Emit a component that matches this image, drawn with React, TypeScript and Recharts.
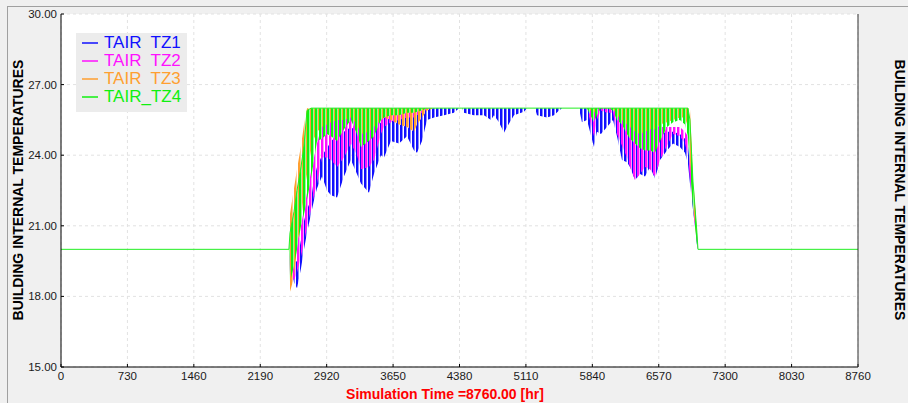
import React from 'react';
import { ComposedChart, Area, Line, XAxis, YAxis, CartesianGrid } from 'recharts';

// simulation hour of each sample
const HOURS = [
  0, 2505, 2517, 2561, 2594, 2638, 2671, 2704, 2748, 2781,
  2814, 2869, 2924, 2968, 3034, 3110, 3187, 3253, 3297, 3385,
  3440, 3517, 3550, 3627, 3715, 3803, 3880, 3913, 3968, 4023,
  4100, 4210, 4319, 4374, 4407, 4429, 4539, 4649, 4726, 4759,
  4814, 4869, 4902, 4979, 5089, 5122, 5210, 5232, 5342, 5419,
  5474, 5507, 5693, 5726, 5781, 5858, 5891, 5935, 6001, 6067,
  6111, 6166, 6221, 6254, 6309, 6364, 6419, 6474, 6529, 6584,
  6661, 6727, 6803, 6858, 6891, 6913, 6946, 6990, 7001, 8760,
];

// daily min / max envelope of each zone temperature
const TZ1_LOW = [
  20, 20, 19.6, 18.6, 18.35, 19.2, 20.0, 20.7, 21.5, 22.1,
  22.6, 23.1, 22.5, 22.3, 22.2, 23.1, 23.8, 23.2, 22.8, 22.4,
  23.2, 24.0, 23.9, 24.6, 24.5, 24.8, 24.2, 24.1, 24.6, 25.5,
  25.6, 25.7, 25.8, 26, 26, 25.8, 25.7, 25.7, 25.5, 25.7,
  25.4, 24.95, 25.2, 25.7, 25.85, 26, 26, 25.7, 25.6, 25.7,
  25.9, 26, 26, 25.4, 25.5, 24.35, 25.0, 24.9, 25.2, 25.5,
  24.8, 23.8, 23.7, 23.5, 22.95, 23.2, 23.1, 23.5, 23.0, 23.8,
  24.2, 24.5, 24.35, 24.1, 23.65, 22.8, 21.7, 20.2, 20, 20,
];
const TZ1_HIGH = [
  20, 20, 20.0, 19.4, 19.5, 20.4, 21.2, 21.7, 22.1, 23.0,
  23.5, 24.0, 24.3, 24.6, 24.8, 25.0, 25.2, 25.0, 24.8, 24.7,
  25.0, 25.4, 25.6, 25.8, 26, 26, 26, 26, 26, 26,
  26, 26, 26, 26, 26, 26, 26, 26, 26, 26,
  26, 26, 26, 26, 26, 26, 26, 26, 26, 26,
  26, 26, 26, 26, 26, 26, 26, 26, 26, 26,
  25.6, 25.3, 25.0, 24.8, 24.6, 24.6, 24.7, 24.8, 24.8, 24.9,
  25.0, 25.0, 24.9, 24.7, 24.4, 23.6, 22.3, 20.6, 20, 20,
];
const TZ2_LOW = [
  20, 20, 18.9, 18.7, 19.0, 19.7, 20.3, 20.95, 21.7, 22.3,
  22.8, 23.9, 23.9, 23.8, 23.5, 23.9, 24.5, 24.0, 23.4, 23.5,
  23.8, 24.9, 25.2, 25.4, 25.5, 25.6, 25.6, 25.7, 25.8, 25.95,
  26, 26, 26, 26, 26, 26, 26, 26, 26, 26,
  26, 26, 26, 26, 26, 26, 26, 26, 26, 26,
  26, 26, 26, 26, 26, 24.8, 25.5, 25.9, 25.8, 25.8,
  24.9, 24.4, 23.9, 23.5, 22.95, 23.2, 23.5, 23.4, 23.1, 23.8,
  24.4, 24.9, 24.8, 24.5, 24.0, 23.0, 21.8, 20.2, 20, 20,
];
const TZ2_HIGH = [
  20, 20, 20.0, 19.9, 20.3, 21.0, 21.7, 22.4, 23.3, 23.9,
  24.5, 25.3, 25.8, 26, 26, 26, 26, 26, 26, 26,
  26, 26, 26, 26, 26, 26, 26, 26, 26, 26,
  26, 26, 26, 26, 26, 26, 26, 26, 26, 26,
  26, 26, 26, 26, 26, 26, 26, 26, 26, 26,
  26, 26, 26, 26, 26, 25.9, 26, 26, 26, 26,
  26, 25.9, 25.7, 25.6, 25.5, 25.4, 25.4, 25.3, 25.3, 25.2,
  25.2, 25.2, 25.2, 25.0, 24.8, 24.0, 22.5, 20.7, 20, 20,
];
const TZ3_LOW = [
  20, 20, 18.2, 18.8, 20.1, 21.2, 22.4, 23.2, 24.2, 24.7,
  25.0, 25.2, 25.3, 25.4, 25.5, 25.5, 25.6, 25.3, 24.9, 25.0,
  25.2, 25.5, 25.6, 25.5, 25.3, 25.2, 25.0, 25.3, 25.6, 25.9,
  26, 26, 26, 26, 26, 26, 26, 26, 26, 26,
  26, 26, 26, 26, 26, 26, 26, 26, 26, 26,
  26, 26, 26, 26, 26, 25.8, 26, 26, 26, 26,
  25.7, 25.5, 25.3, 25.2, 25.0, 24.9, 25.0, 25.1, 25.1, 25.3,
  25.4, 25.5, 25.6, 25.6, 25.2, 23.8, 21.9, 20.3, 20, 20,
];
const TZ3_HIGH = [
  20, 20, 21.5, 22.6, 23.4, 24.4, 25.3, 26, 26, 26,
  26, 26, 26, 26, 26, 26, 26, 26, 26, 26,
  26, 26, 26, 26, 26, 26, 26, 26, 26, 26,
  26, 26, 26, 26, 26, 26, 26, 26, 26, 26,
  26, 26, 26, 26, 26, 26, 26, 26, 26, 26,
  26, 26, 26, 26, 26, 26, 26, 26, 26, 26,
  26, 26, 26, 26, 26, 26, 26, 26, 26, 26,
  26, 26, 26, 26, 26, 26, 23.1, 20.8, 20, 20,
];
const TZ4_LOW = [
  20, 20, 18.6, 19.3, 20.0, 21.0, 21.5, 22.1, 23.0, 23.8,
  24.6, 24.7, 24.9, 24.8, 24.6, 25.1, 25.5, 24.9, 24.35, 24.6,
  24.8, 25.5, 25.6, 25.7, 25.7, 25.8, 25.8, 25.85, 25.9, 26,
  26, 26, 26, 26, 26, 26, 26, 26, 26, 26,
  26, 26, 26, 26, 26, 26, 26, 26, 26, 26,
  26, 26, 26, 26, 26, 25.4, 25.7, 26, 26, 25.9,
  25.5, 25.3, 24.9, 24.7, 24.5, 24.3, 24.2, 24.2, 24.1, 24.6,
  25.2, 25.4, 25.5, 25.3, 24.8, 23.5, 21.8, 20.2, 20, 20,
];
const TZ4_HIGH = [
  20, 20, 20.7, 21.6, 22.5, 23.5, 24.4, 25.9, 26, 26,
  26, 26, 26, 26, 26, 26, 26, 26, 26, 26,
  26, 26, 26, 26, 26, 26, 26, 26, 26, 26,
  26, 26, 26, 26, 26, 26, 26, 26, 26, 26,
  26, 26, 26, 26, 26, 26, 26, 26, 26, 26,
  26, 26, 26, 26, 26, 26, 26, 26, 26, 26,
  26, 26, 26, 26, 26, 26, 26, 26, 26, 26,
  26, 26, 26, 26, 26, 25.5, 22.9, 20.7, 20, 20,
];

const LEGEND_NAMES = ['TAIR  TZ1', 'TAIR  TZ2', 'TAIR  TZ3', 'TAIR_TZ4'];
const COLORS = ['#1010ff', '#ff10ff', '#ff9f30', '#10f010'];
const LIGHT = ['#8a8aff', '#ff9aff', '#ffc890', '#96ff96'];

const X_TICKS = [0, 730, 1460, 2190, 2920, 3650, 4380, 5110, 5840, 6570, 7300, 8030, 8760];
const Y_TICKS = [15, 18, 21, 24, 27, 30];

const quarters = (t: number[]) => {
  const out: number[] = [];
  for (let i = 0; i < t.length - 1; i++) {
    const step = (t[i + 1] - t[i]) / 4;
    out.push(t[i] + step, t[i] + 2 * step, t[i] + 3 * step);
  }
  return out;
};
const X_MINOR = quarters(X_TICKS);
const Y_MINOR = quarters(Y_TICKS);

const data = HOURS.map((h, i) => ({
  h,
  tz1: [TZ1_LOW[i], TZ1_HIGH[i]],
  tz2: [TZ2_LOW[i], TZ2_HIGH[i]],
  tz3: [TZ3_LOW[i], TZ3_HIGH[i]],
  tz4: [TZ4_LOW[i], TZ4_HIGH[i]],
  tz4top: TZ4_HIGH[i],
}));

const tickStyle = { fontSize: 11.5, fill: '#1a1a1a' };
const blank = () => '';
const font = '"Liberation Sans", Arial, sans-serif';

const App: React.FC = () => {
  return (
    <div style={{ position: 'absolute', left: 0, top: 0, width: 908, height: 403, overflow: 'hidden', background: '#f0f0f0', fontFamily: font }}>
      <div style={{ position: 'absolute', left: 7, top: 6, right: 0, bottom: 0, borderLeft: '1px solid #a0a0a0', borderTop: '1px solid #a0a0a0' }} />
      <div style={{ position: 'absolute', left: 0, top: 0 }}>
        <ComposedChart width={908} height={403} data={data} margin={{ top: 14, right: 0, bottom: 0, left: 0 }} style={{ fontFamily: font }}>
          <defs>
            {COLORS.map((c, i) => (
              <pattern key={i} id={`stripe${i}`} patternUnits="userSpaceOnUse" width={4} height={4}>
                <rect x={i} y={0} width={1} height={4} fill={c} />
                <rect x={(i + 1) % 4} y={0} width={1} height={4} fill={c} />
                <rect x={(i + 2) % 4} y={0} width={1} height={4} fill={LIGHT[i]} />
              </pattern>
            ))}
          </defs>
          <CartesianGrid stroke="#e2e2e2" strokeDasharray="3 3" fill="#ffffff" />
          <XAxis xAxisId="xm" dataKey="h" type="number" domain={[0, 8760]} ticks={X_MINOR} interval={0}
            height={0} axisLine={false} tickSize={-3} tickLine={{ stroke: '#000' }} tickFormatter={blank} />
          <XAxis dataKey="h" type="number" domain={[0, 8760]} ticks={X_TICKS} interval={0}
            height={36} axisLine={{ stroke: '#000' }} tickSize={-3} tickMargin={8} tickLine={{ stroke: '#000' }} tick={tickStyle} />
          <XAxis xAxisId="xt" orientation="top" dataKey="h" type="number" domain={[0, 8760]} ticks={X_TICKS} interval={0}
            height={0} axisLine={{ stroke: '#000' }} tickSize={-3} tickLine={{ stroke: '#000' }} tickFormatter={blank} />
          <YAxis yAxisId="ym" type="number" domain={[15, 30]} ticks={Y_MINOR} interval={0}
            width={0} axisLine={false} tickSize={-3} tickLine={{ stroke: '#000' }} tickFormatter={blank} />
          <YAxis type="number" domain={[15, 30]} ticks={Y_TICKS} interval={0}
            width={61} axisLine={{ stroke: '#000' }} tickSize={-3} tickMargin={7} tickLine={{ stroke: '#000' }}
            tick={tickStyle} tickFormatter={(v: number) => v.toFixed(2)} />
          <YAxis yAxisId="yrm" orientation="right" type="number" domain={[15, 30]} ticks={Y_MINOR} interval={0}
            width={0} axisLine={false} tickSize={-3} tickLine={{ stroke: '#333' }} tickFormatter={blank} />
          <YAxis yAxisId="yr" orientation="right" type="number" domain={[15, 30]} ticks={Y_TICKS} interval={0}
            width={50} axisLine={{ stroke: '#333' }} tickSize={-3} tickMargin={7} tickLine={{ stroke: '#333' }}
            tick={tickStyle} tickFormatter={(v: number) => v.toFixed(2)} />
          <Area dataKey="tz1" type="linear" stroke="none" fill="url(#stripe0)" fillOpacity={1} isAnimationActive={false} activeDot={false} />
          <Area dataKey="tz2" type="linear" stroke="none" fill="url(#stripe1)" fillOpacity={1} isAnimationActive={false} activeDot={false} />
          <Area dataKey="tz3" type="linear" stroke="none" fill="url(#stripe2)" fillOpacity={1} isAnimationActive={false} activeDot={false} />
          <Area dataKey="tz4" type="linear" stroke="none" fill="url(#stripe3)" fillOpacity={1} isAnimationActive={false} activeDot={false} />
          <Line dataKey="tz4top" type="linear" stroke="#22ee22" strokeWidth={1} dot={false} activeDot={false} isAnimationActive={false} />
        </ComposedChart>
      </div>

      <div style={{ position: 'absolute', left: 76, top: 33, width: 111, height: 79, background: '#ececec' }}>
        {LEGEND_NAMES.map((name, i) => (
          <div key={name} style={{ position: 'absolute', left: 6, top: 1 + i * 18, height: 18, display: 'flex', alignItems: 'center', whiteSpace: 'pre' }}>
            <svg width={16} height={4} style={{ marginRight: 6 }}>
              <line x1={0} y1={2} x2={16} y2={2} stroke={COLORS[i]} strokeWidth={1.5} />
            </svg>
            <span style={{ color: COLORS[i], fontSize: 17, lineHeight: '18px' }}>{name}</span>
          </div>
        ))}
      </div>

      <div style={{ position: 'absolute', left: 18, top: 190, transform: 'translate(-50%, -50%) rotate(-90deg)', whiteSpace: 'nowrap', fontSize: 14, fontWeight: 'bold', color: '#000' }}>
        BUILDING INTERNAL TEMPERATURES
      </div>
      <div style={{ position: 'absolute', left: 900, top: 190, transform: 'translate(-50%, -50%) rotate(90deg)', whiteSpace: 'nowrap', fontSize: 14, fontWeight: 'bold', color: '#000' }}>
        BUILDING INTERNAL TEMPERATURES
      </div>
      <div style={{ position: 'absolute', left: 445, top: 394, transform: 'translate(-50%, -50%)', whiteSpace: 'nowrap', fontSize: 14, fontWeight: 'bold', color: '#ff0000' }}>
        Simulation Time =8760.00 [hr]
      </div>
    </div>
  );
};

export default App;
